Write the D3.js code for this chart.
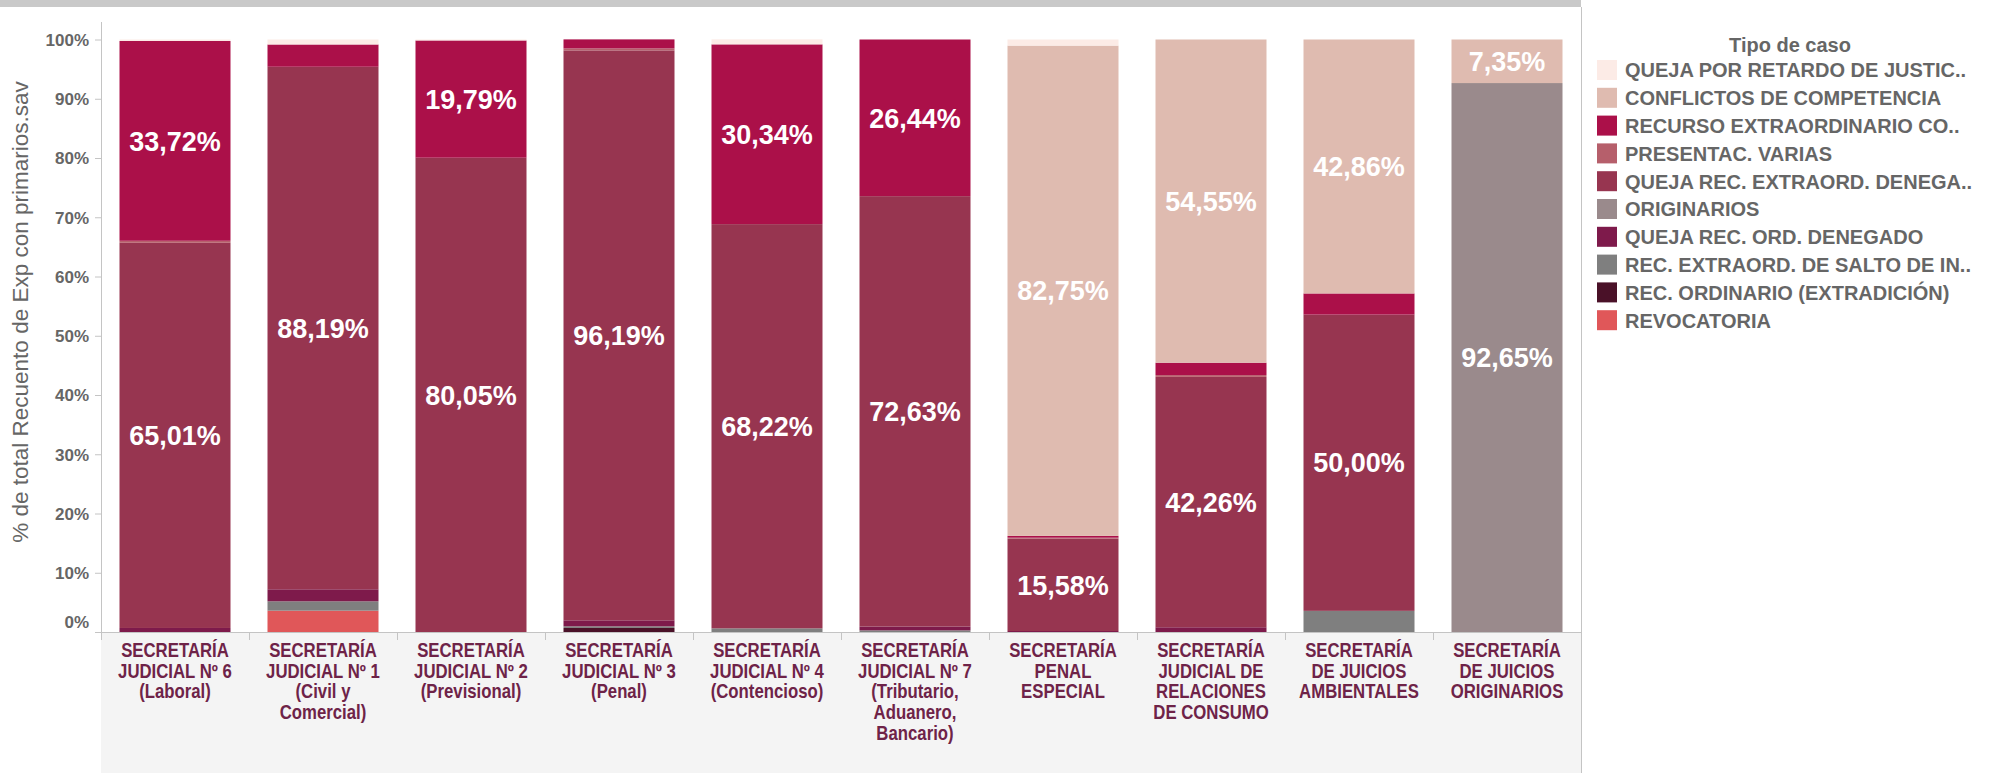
<!DOCTYPE html>
<html><head><meta charset="utf-8">
<script src="https://cdn.jsdelivr.net/npm/d3@7/dist/d3.min.js"></script>
<style>body{margin:0;background:#fff;} svg{display:block;}</style>
</head><body>
<svg id="chart" width="1991" height="773"></svg>
<script>
// ---------- DATA ----------
const categories = [
  "SECRETARÍA JUDICIAL Nº 6 (Laboral)",
  "SECRETARÍA JUDICIAL Nº 1 (Civil y Comercial)",
  "SECRETARÍA JUDICIAL Nº 2 (Previsional)",
  "SECRETARÍA JUDICIAL Nº 3 (Penal)",
  "SECRETARÍA JUDICIAL Nº 4 (Contencioso)",
  "SECRETARÍA JUDICIAL Nº 7 (Tributario, Aduanero, Bancario)",
  "SECRETARÍA PENAL ESPECIAL",
  "SECRETARÍA JUDICIAL DE RELACIONES DE CONSUMO",
  "SECRETARÍA DE JUICIOS AMBIENTALES",
  "SECRETARÍA DE JUICIOS ORIGINARIOS"
];
const categoryLines = [
  ["SECRETARÍA", "JUDICIAL Nº 6", "(Laboral)"],
  ["SECRETARÍA", "JUDICIAL Nº 1", "(Civil y", "Comercial)"],
  ["SECRETARÍA", "JUDICIAL Nº 2", "(Previsional)"],
  ["SECRETARÍA", "JUDICIAL Nº 3", "(Penal)"],
  ["SECRETARÍA", "JUDICIAL Nº 4", "(Contencioso)"],
  ["SECRETARÍA", "JUDICIAL Nº 7", "(Tributario,", "Aduanero,", "Bancario)"],
  ["SECRETARÍA", "PENAL", "ESPECIAL"],
  ["SECRETARÍA", "JUDICIAL DE", "RELACIONES", "DE CONSUMO"],
  ["SECRETARÍA", "DE JUICIOS", "AMBIENTALES"],
  ["SECRETARÍA", "DE JUICIOS", "ORIGINARIOS"]
];
// legend order (top to bottom)
const legendLabels = [
  "QUEJA POR RETARDO DE JUSTIC..",
  "CONFLICTOS DE COMPETENCIA",
  "RECURSO EXTRAORDINARIO CO..",
  "PRESENTAC. VARIAS",
  "QUEJA REC. EXTRAORD. DENEGA..",
  "ORIGINARIOS",
  "QUEJA REC. ORD. DENEGADO",
  "REC. EXTRAORD. DE SALTO DE IN..",
  "REC. ORDINARIO (EXTRADICIÓN)",
  "REVOCATORIA"
];
const legendColors = [
  "#fcebe6", "#dfbbb0", "#ab1049", "#b65f6b", "#973550",
  "#9a8a8c", "#7e1a4b", "#7f7f7f", "#4a1128", "#e05759"
];
// values in % per category
const quejaRetardo     = [0.25, 0.84, 0.16, 0,     0.84,  0,     1.03,  0,     0,     0];
const conflictos       = [0,    0,    0,    0,     0,     0,     82.75, 54.55, 42.86, 7.35];
const recursoExtra     = [33.72, 3.76, 19.79, 1.52, 30.34, 26.44, 0.30,  2.09,  3.57,  0];
const presentacVarias  = [0.34, 0,    0,    0.34,  0,     0,     0.17,  0.30,  0,     0];
const quejaRecExtra    = [65.01, 88.19, 80.05, 96.19, 68.22, 72.63, 15.58, 42.26, 50.00, 0];
const originarios      = [0,    0,    0,    0,     0,     0,     0,     0,     0,     92.65];
const quejaRecOrd      = [0.68, 2.03, 0,    1.01,  0,     0.65,  0.17,  0.80,  0,     0];
const recSalto         = [0,    1.58, 0,    0.28,  0.62,  0.28,  0,     0,     3.57,  0];
const recOrdExtradicion= [0,    0,    0,    0.68,  0,     0,     0,     0,     0,     0];
const revocatoria      = [0,    3.60, 0,    0,     0,     0,     0,     0,     0,     0];
const seriesValues = [quejaRetardo, conflictos, recursoExtra, presentacVarias, quejaRecExtra,
  originarios, quejaRecOrd, recSalto, recOrdExtradicion, revocatoria];
const yTicks = [0, 10, 20, 30, 40, 50, 60, 70, 80, 90, 100];

// ---------- CHART ----------
const svg = d3.select("#chart");
const W = 1991, H = 773;
const plotL = 101, plotR = 1581, plotT = 39.5, plotB = 632;
const gray = "#666666";
const mainFont = "'Liberation Sans',Arial,sans-serif";

const x = d3.scaleBand().domain(categories).range([plotL, plotR]).paddingInner(0.25).paddingOuter(0.125);
const y = d3.scaleLinear().domain([0, 100]).range([plotB, plotT]);

// top gray strip
svg.append("rect").attr("x", 0).attr("y", 0).attr("width", plotR).attr("height", 7).attr("fill", "#c9c9c9");

// x-axis band background
svg.append("rect").attr("x", plotL).attr("y", plotB + 1).attr("width", plotR - plotL).attr("height", H - plotB - 1).attr("fill", "#f4f4f4");

// stack
const keys = d3.range(legendLabels.length).reverse(); // bottom first
const rows = categories.map((c, i) => {
  const r = {cat: c};
  keys.forEach(k => r[k] = seriesValues[k][i]);
  return r;
});
const stacked = d3.stack().keys(keys)(rows);

const layers = svg.append("g").selectAll("g").data(stacked).join("g")
  .attr("fill", d => legendColors[d.key]);
layers.selectAll("rect").data(d => d.map(p => ({p, key: d.key})))
  .join("rect")
  .attr("x", d => x(d.p.data.cat))
  .attr("width", x.bandwidth())
  .attr("y", d => y(d.p[1]))
  .attr("height", d => Math.max(0, y(d.p[0]) - y(d.p[1])));

// value labels
const fmt = v => d3.format(".2f")(v).replace(".", ",") + "%";
const labelData = [];
stacked.forEach(layer => layer.forEach(p => {
  const v = p[1] - p[0];
  if (v > 5) labelData.push({cat: p.data.cat, mid: (p[0] + p[1]) / 2, v});
}));
svg.append("g").selectAll("text").data(labelData).join("text")
  .attr("x", d => x(d.cat) + x.bandwidth() / 2)
  .attr("y", d => y(d.mid))
  .attr("dy", "0.36em")
  .attr("text-anchor", "middle")
  .attr("font-family", mainFont)
  .attr("font-weight", "bold")
  .attr("font-size", 27)
  .attr("fill", "#ffffff")
  .text(d => fmt(d.v));

// axis lines
svg.append("line").attr("x1", plotL + 0.5).attr("x2", plotL + 0.5).attr("y1", 22).attr("y2", plotB + 8).attr("stroke", "#c4c4c4");
svg.append("line").attr("x1", plotR + 0.5).attr("x2", plotR + 0.5).attr("y1", 7).attr("y2", H).attr("stroke", "#c4c4c4");
svg.append("line").attr("x1", plotL).attr("x2", plotR).attr("y1", plotB + 0.5).attr("y2", plotB + 0.5).attr("stroke", "#c4c4c4");

// column separator ticks
const seps = d3.range(categories.length + 1).map(i => plotL + i * x.step());
svg.append("g").selectAll("line").data(seps.slice(1, -1)).join("line")
  .attr("x1", d => Math.round(d) + 0.5).attr("x2", d => Math.round(d) + 0.5)
  .attr("y1", plotB).attr("y2", plotB + 8).attr("stroke", "#c4c4c4");

// y axis
const yAxis = svg.append("g").attr("transform", `translate(${plotL},0)`)
  .call(d3.axisLeft(y).tickValues(yTicks).tickSize(6).tickPadding(6).tickFormat(d => d + "%"));
yAxis.select(".domain").remove();
yAxis.selectAll(".tick line").attr("stroke", "#c4c4c4");
yAxis.selectAll(".tick text")
  .attr("font-family", mainFont).attr("font-weight", "bold").attr("font-size", 17).attr("fill", gray)
  .attr("dy", d => d === 0 ? "-0.25em" : "0.35em");

// y axis title
svg.append("text")
  .attr("transform", `translate(28,312) rotate(-90)`)
  .attr("text-anchor", "middle")
  .attr("font-family", mainFont).attr("font-size", 22.5).attr("fill", gray)
  .text("% de total Recuento de Exp con primarios.sav");

// x labels (condensed look)
const xl = svg.append("g").selectAll("text").data(categories).join("text")
  .attr("transform", d => `translate(${x(d) + x.bandwidth() / 2},0) scale(0.86,1)`)
  .attr("text-anchor", "middle")
  .attr("font-family", mainFont).attr("font-weight", "bold").attr("font-size", 19.5)
  .attr("fill", "#6e2348");
xl.each(function(c, i) {
  const t = d3.select(this);
  categoryLines[i].forEach((ln, j) => {
    t.append("tspan").attr("x", 0).attr("y", 657 + j * 20.7).text(ln);
  });
});

// legend
const lg = svg.append("g");
lg.append("text").attr("x", 1790).attr("y", 52).attr("text-anchor", "middle")
  .attr("font-family", mainFont).attr("font-weight", "bold").attr("font-size", 20).attr("fill", gray)
  .text("Tipo de caso");
const items = lg.selectAll("g.item").data(legendLabels).join("g").attr("class", "item")
  .attr("transform", (d, i) => `translate(1597,${60 + i * 27.8})`);
items.append("rect").attr("width", 20).attr("height", 20).attr("fill", (d, i) => legendColors[i]);
items.append("text").attr("x", 28).attr("y", 17.3)
  .attr("font-family", mainFont).attr("font-weight", "bold").attr("font-size", 20).attr("fill", gray)
  .text(d => d);
</script>
</body></html>
